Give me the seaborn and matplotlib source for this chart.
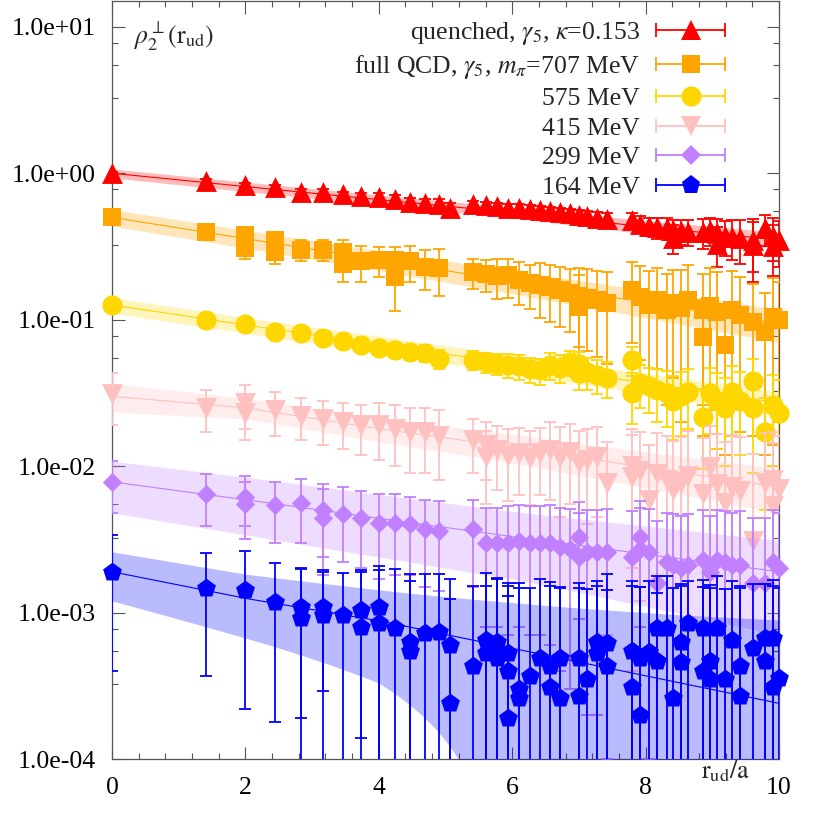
import numpy as np
import matplotlib
matplotlib.use("Agg")
import matplotlib.pyplot as plt
import seaborn as sns
from matplotlib.lines import Line2D
from matplotlib.legend_handler import HandlerLine2D, HandlerTuple
from matplotlib.ticker import FixedLocator, FuncFormatter, MultipleLocator, NullFormatter

# ---------------- data ----------------
red_x = [0, 1.41, 2.0, 2.45, 2.83, 3.16, 3.46, 3.74, 4.0, 4.24, 4.47, 4.69, 4.90, 5.07,
         5.41, 5.61, 5.77, 5.94, 6.10, 6.27, 6.42, 6.57, 6.72, 6.87, 7.00, 7.12, 7.27, 7.42,
         7.80, 7.92, 8.05, 8.17, 8.32, 8.41, 8.53, 8.64, 8.86, 8.97, 9.07, 9.19, 9.30, 9.42,
         9.61, 9.79, 9.91, 10.0,
         8.41, 9.07, 9.61, 9.91]
red_y = [1.0, 0.88, 0.83, 0.80, 0.75, 0.75, 0.72, 0.70, 0.69, 0.67, 0.64, 0.63, 0.62, 0.58,
         0.614, 0.605, 0.595, 0.577, 0.577, 0.568, 0.559, 0.550, 0.541, 0.533, 0.517, 0.509, 0.493, 0.485,
         0.477, 0.448, 0.434, 0.428, 0.421, 0.408, 0.402, 0.396, 0.396, 0.408, 0.389, 0.371, 0.366, 0.360,
         0.322, 0.420, 0.371, 0.349,
         0.36, 0.33, 0.35, 0.32]
red_e = [0.02, 0.03, 0.03, 0.03, 0.03, 0.03, 0.03, 0.03, 0.04, 0.04, 0.04, 0.04, 0.05, 0.05,
         0.03, 0.03, 0.03, 0.035, 0.035, 0.035, 0.04, 0.04, 0.04, 0.04, 0.045, 0.045, 0.05, 0.05,
         0.06, 0.06, 0.06, 0.07, 0.07, 0.07, 0.08, 0.08, 0.09, 0.09, 0.10, 0.10, 0.11, 0.12,
         0.14, 0.10, 0.12, 0.12,
         0.08, 0.10, 0.14, 0.12]

orange_x = [0, 1.41, 2.0, 2.0, 2.45, 2.45, 2.83, 3.16, 3.46, 3.46, 3.74, 4.0, 4.24, 4.24, 4.47, 4.69, 4.90,
            5.41, 5.61, 5.77, 5.94, 6.10, 6.27, 6.42, 6.57, 6.72, 6.87, 7.00, 7.12, 7.27, 7.42,
            7.80, 7.92, 8.05, 8.17, 8.32, 8.41, 8.53, 8.64, 8.86, 8.97, 9.07, 9.19, 9.30, 9.42,
            9.61, 9.79, 9.91, 10.0,
            7.00, 8.86]
orange_y = [0.50, 0.40, 0.38, 0.31, 0.35, 0.29, 0.30, 0.30, 0.29, 0.24, 0.25, 0.255, 0.255, 0.195, 0.25, 0.23, 0.225,
            0.211, 0.205, 0.198, 0.201, 0.186, 0.178, 0.172, 0.167, 0.159, 0.153, 0.145, 0.141, 0.136, 0.130,
            0.159, 0.143, 0.126, 0.136, 0.116, 0.130, 0.120, 0.136, 0.076, 0.124, 0.113, 0.067, 0.116, 0.107,
            0.096, 0.082, 0.104, 0.100,
            0.122, 0.116]
orange_e = [0.03, 0.04, 0.05, 0.05, 0.05, 0.05, 0.05, 0.05, 0.06, 0.06, 0.07, 0.06, 0.06, 0.08, 0.07, 0.07, 0.08,
            0.05, 0.05, 0.06, 0.06, 0.06, 0.06, 0.07, 0.07, 0.07, 0.07, 0.08, 0.08, 0.08, 0.08,
            0.09, 0.09, 0.09, 0.09, 0.09, 0.09, 0.10, 0.10, 0.06, 0.10, 0.10, 0.055, 0.10, 0.09,
            0.08, 0.07, 0.09, 0.08,
            0.08, 0.09]

yellow_x = [0, 1.41, 2.0, 2.45, 2.83, 3.16, 3.46, 3.74, 4.0, 4.24, 4.47, 4.69, 4.90,
            5.41, 5.61, 5.77, 5.94, 6.10, 6.27, 6.42, 6.57, 6.72, 6.87, 7.00, 7.12, 7.27, 7.42,
            7.80, 7.92, 8.05, 8.17, 8.32, 8.41, 8.53, 8.64, 8.86, 8.97, 9.07, 9.19, 9.30, 9.42,
            9.61, 9.79, 9.91, 10.0,
            7.00, 7.80, 9.61]
yellow_y = [0.126, 0.100, 0.093, 0.082, 0.081, 0.075, 0.072, 0.067, 0.064, 0.062, 0.060, 0.059, 0.054,
            0.053, 0.051, 0.050, 0.049, 0.048, 0.046, 0.045, 0.049, 0.047, 0.051, 0.043, 0.044, 0.042, 0.040,
            0.053, 0.037, 0.035, 0.033, 0.0315, 0.028, 0.030, 0.032, 0.0216, 0.0315, 0.028, 0.025, 0.032, 0.028,
            0.025, 0.017, 0.026, 0.023,
            0.050, 0.0315, 0.038]
yellow_e = [0.006, 0.007, 0.008, 0.007, 0.007, 0.007, 0.007, 0.007, 0.007, 0.007, 0.007, 0.008, 0.008,
            0.008, 0.008, 0.008, 0.009, 0.009, 0.009, 0.009, 0.010, 0.010, 0.010, 0.010, 0.011, 0.011, 0.011,
            0.012, 0.012, 0.012, 0.013, 0.013, 0.013, 0.014, 0.014, 0.012, 0.015, 0.015, 0.015, 0.016, 0.016,
            0.016, 0.012, 0.016, 0.016,
            0.010, 0.012, 0.016]

pink_x = [0, 1.41, 2.0, 2.0, 2.45, 2.83, 3.16, 3.46, 3.74, 4.0, 4.24, 4.47, 4.69, 4.90,
          5.41, 5.61, 5.77, 5.94, 6.10, 6.27, 6.42, 6.57, 6.72, 6.87, 7.00, 7.12, 7.27, 7.42,
          7.80, 7.92, 8.05, 8.17, 8.32, 8.41, 8.53, 8.64, 8.86, 8.97, 9.07, 9.19, 9.30, 9.42,
          9.61, 9.79, 9.91, 10.0,
          5.61, 7.80, 9.91]
pink_y = [0.031, 0.025, 0.027, 0.023, 0.024, 0.022, 0.021, 0.020, 0.019, 0.019, 0.018, 0.017, 0.017, 0.016,
          0.0150, 0.0115, 0.0129, 0.0118, 0.0123, 0.0114, 0.0123, 0.0129, 0.0115, 0.0125, 0.0105, 0.0110, 0.0115, 0.0077,
          0.0084, 0.0092, 0.0059, 0.0088, 0.0080, 0.0069, 0.0077, 0.0085, 0.0065, 0.0098, 0.0075, 0.0056, 0.0072, 0.0068,
          0.0031, 0.0077, 0.0053, 0.0070,
          0.0140, 0.0100, 0.0080]
pink_e = [0.012, 0.008, 0.009, 0.008, 0.008, 0.007, 0.007, 0.007, 0.007, 0.008, 0.008, 0.008, 0.008, 0.008,
          0.006, 0.006, 0.006, 0.006, 0.006, 0.006, 0.006, 0.007, 0.007, 0.007, 0.007, 0.007, 0.007, 0.007,
          0.008, 0.008, 0.008, 0.008, 0.008, 0.008, 0.008, 0.009, 0.009, 0.009, 0.009, 0.009, 0.009, 0.009,
          0.009, 0.009, 0.009, 0.009,
          0.006, 0.008, 0.009]

purple_x = [0, 1.41, 2.0, 2.0, 2.45, 2.83, 3.16, 3.16, 3.46, 3.74, 4.0, 4.24, 4.47, 4.69, 4.90,
            5.41, 5.61, 5.77, 5.94, 6.10, 6.27, 6.42, 6.57, 6.72, 6.87, 7.00, 7.12, 7.27, 7.42,
            7.80, 7.92, 8.05, 8.17, 8.32, 8.41, 8.53, 8.64, 8.86, 8.97, 9.07, 9.19, 9.30, 9.42,
            9.61, 9.79, 9.91, 10.0,
            7.00, 7.92]
purple_y = [0.0078, 0.0064, 0.0062, 0.0055, 0.0054, 0.0056, 0.0050, 0.0044, 0.0047, 0.0044, 0.0041, 0.0041, 0.0040, 0.0037, 0.0036,
            0.0037, 0.0030, 0.0030, 0.0030, 0.0031, 0.0030, 0.0030, 0.0030, 0.0028, 0.0027, 0.0033, 0.0026, 0.0026, 0.0026,
            0.0024, 0.0033, 0.0026, 0.0016, 0.0022, 0.0021, 0.0020, 0.0021, 0.0023, 0.0019, 0.0023, 0.0022, 0.0021, 0.0021,
            0.0016, 0.0016, 0.0022, 0.0020,
            0.0024, 0.0027]
purple_e = [0.0030, 0.0025, 0.0023, 0.0023, 0.0024, 0.0026, 0.0026, 0.0026, 0.0025, 0.0024, 0.0024, 0.0023, 0.0022, 0.0022, 0.0022,
            0.0022, 0.0022, 0.0022, 0.0023, 0.0023, 0.0023, 0.0023, 0.0024, 0.0024, 0.0024, 0.0024, 0.0024, 0.0024, 0.0025,
            0.0025, 0.0025, 0.0025, 0.0026, 0.0026, 0.0026, 0.0026, 0.0026, 0.0027, 0.0027, 0.0027, 0.0027, 0.0027, 0.0028,
            0.0028, 0.0028, 0.0028, 0.0028,
            0.0024, 0.0025]

blue_x = [0, 1.41, 2.0, 2.45, 2.83, 2.83, 3.16, 3.16, 3.46, 3.74, 3.74, 4.0, 4.0, 4.24, 4.47, 4.47, 4.69, 4.90, 5.07, 5.07,
          5.41, 5.61, 5.61, 5.77, 5.77, 5.94, 5.94, 5.94, 6.10, 6.10, 6.27, 6.42, 6.57, 6.57, 6.72, 6.72,
          7.00, 7.00, 7.12, 7.27, 7.27, 7.42, 7.42, 7.80, 7.80, 7.92, 7.92, 8.05, 8.17, 8.17, 8.32, 8.41,
          8.53, 8.53, 8.64, 8.86, 8.86, 8.97, 8.97, 9.07, 9.19, 9.30, 9.42, 9.42, 9.61, 9.79, 9.79, 9.91, 9.91, 10.0]
blue_y = [0.0019, 0.00147, 0.00142, 0.00118, 0.00109, 0.00092, 0.00109, 0.00096, 0.00096, 0.00104, 0.00080,
          0.00109, 0.00085, 0.00078, 0.00055, 0.00063, 0.00072, 0.00074, 0.00024, 0.00060,
          0.00043, 0.00065, 0.00053, 0.00063, 0.00049, 0.00053, 0.00040, 0.00019, 0.00030, 0.00026, 0.00037,
          0.00049, 0.00043, 0.00031, 0.00049, 0.00026, 0.00049, 0.00027, 0.00035, 0.00063, 0.00053, 0.00062,
          0.00043, 0.00055, 0.00031, 0.00049, 0.00020, 0.00054, 0.00047, 0.00078, 0.00078, 0.00026, 0.00063,
          0.00046, 0.00085, 0.00078, 0.00040, 0.00047, 0.00035, 0.00078, 0.00035, 0.00065, 0.00043, 0.00027,
          0.00057, 0.00067, 0.00047, 0.00031, 0.00067, 0.00036]
blue_e = [0.0015, 0.0011, 0.0012, 0.0010, 0.0009, 0.0011, 0.0008, 0.0010, 0.0009, 0.0009, 0.0011,
          0.0010, 0.0011, 0.0012, 0.0011, 0.0012, 0.0011, 0.0011, 0.0010, 0.0011,
          0.0011, 0.0012, 0.0010, 0.0011, 0.0012, 0.0010, 0.0012, 0.0011, 0.0013, 0.0012,
          0.0011, 0.0012, 0.0011, 0.0013, 0.0010, 0.0012, 0.0011, 0.0012, 0.0011, 0.0009,
          0.0011, 0.0012, 0.0010, 0.0011, 0.0012, 0.0010, 0.0013, 0.0011, 0.0009, 0.0010,
          0.0010, 0.0012, 0.0009, 0.0011, 0.0008, 0.0009, 0.0011, 0.0010, 0.0012, 0.0010,
          0.0011, 0.0010, 0.0011, 0.0012, 0.0010, 0.0009, 0.0011, 0.0012, 0.0010, 0.0011]

# fit bands: centre value and half-width at nodes
band_x = [0, 2, 4, 6, 8, 10]
red_fit = [1.0, 0.81, 0.66, 0.54, 0.43, 0.35]
red_sig = [0.07, 0.06, 0.05, 0.045, 0.045, 0.045]
orange_fit = [0.50, 0.358, 0.256, 0.183, 0.131, 0.094]
orange_sig = [0.065, 0.05, 0.04, 0.033, 0.028, 0.024]
yellow_fit = [0.126, 0.092, 0.068, 0.050, 0.037, 0.027]
yellow_sig = [0.015, 0.011, 0.009, 0.007, 0.006, 0.005]
pink_fit = [0.030, 0.025, 0.018, 0.0135, 0.0098, 0.0072]
pink_sig = [0.0065, 0.004, 0.0033, 0.003, 0.0027, 0.0024]
purple_fit = [0.0078, 0.0059, 0.0044, 0.0033, 0.0025, 0.0019]
purple_sig = [0.003, 0.0025, 0.002, 0.0016, 0.0014, 0.0012]
blue_fit = [0.0019, 0.00125, 0.00088, 0.00057, 0.00037, 0.00024]
blue_sig = [0.0007, 0.00058, 0.00055, 0.0006, 0.00063, 0.00065]

labels = [r'quenched, $\gamma_5$, $\kappa$=0.153',
          r'full QCD, $\gamma_5$, $m_\pi$=707 MeV',
          '575 MeV', '415 MeV', '299 MeV', '164 MeV']
xticks = [0, 2, 4, 6, 8, 10]
yticks = [1e-4, 1e-3, 1e-2, 1e-1, 1e0, 1e1]

# ---------------- style ----------------
sns.set_theme(style="ticks")
plt.rcParams["font.family"] = ["Liberation Serif", "DejaVu Serif"]
plt.rcParams["mathtext.fontset"] = "stix"
FS = 18.5

series = [
    dict(x=red_x, y=red_y, e=red_e, fit=red_fit, sig=red_sig, color="#ff0000", marker="^", ms=15),
    dict(x=orange_x, y=orange_y, e=orange_e, fit=orange_fit, sig=orange_sig, color="#ffa500", marker="s", ms=13.5),
    dict(x=yellow_x, y=yellow_y, e=yellow_e, fit=yellow_fit, sig=yellow_sig, color="#ffd700", marker="o", ms=14.5),
    dict(x=pink_x, y=pink_y, e=pink_e, fit=pink_fit, sig=pink_sig, color="#ffc0c0", marker="v", ms=15),
    dict(x=purple_x, y=purple_y, e=purple_e, fit=purple_fit, sig=purple_sig, color="#c080ff", marker="D", ms=9.8),
    dict(x=blue_x, y=blue_y, e=blue_e, fit=blue_fit, sig=blue_sig, color="#0000ff", marker="p", ms=14.2),
]

fig = plt.figure(figsize=(8.22, 8.22), dpi=100)
ax = fig.add_axes([112 / 822, 63 / 822, 667 / 822, 758 / 822])
ax.set_yscale("log")
ax.set_xlim(0, 10)
ax.set_ylim(1e-4, 15)

xx = np.linspace(0, 10, 401)
for i, s in enumerate(series):
    z = 2 + 4 * i
    c = 10 ** np.interp(xx, band_x, np.log10(s["fit"]))
    sg = np.interp(xx, band_x, s["sig"])
    ax.fill_between(xx, np.clip(c - sg, 1e-7, None), c + sg, color=s["color"],
                    alpha=0.27, lw=0, zorder=z)
    sns.lineplot(x=xx, y=c, color=s["color"], lw=0.8, ax=ax, zorder=z + 0.5)
    ax.errorbar(s["x"], s["y"], yerr=s["e"], fmt="none", ecolor=s["color"],
                elinewidth=1.3, capsize=4.5, capthick=1.3, zorder=z + 1)
    sns.scatterplot(x=s["x"], y=s["y"], marker=s["marker"], s=s["ms"] ** 2,
                    color=s["color"], linewidth=0, ax=ax, zorder=z + 2,
                    clip_on=False, legend=False)

# axes styling
for sp in ax.spines.values():
    sp.set_color("#555555")
    sp.set_linewidth(0.9)
ax.xaxis.set_major_locator(FixedLocator(xticks))
ax.xaxis.set_minor_locator(MultipleLocator(0.4))
ax.yaxis.set_major_locator(FixedLocator(yticks))
minor_y = [m * 10.0 ** k for k in range(-4, 2) for m in (3.25, 5.5, 7.75)]
ax.yaxis.set_minor_locator(FixedLocator(minor_y))
ax.yaxis.set_minor_formatter(NullFormatter())
ax.yaxis.set_major_formatter(FuncFormatter(lambda v, p: f"{v:.1e}"))
ax.xaxis.set_major_formatter(FuncFormatter(lambda v, p: f"{v:g}"))
ax.tick_params(which="both", direction="in", top=True, right=True,
               colors="#555555", labelcolor="black", labelsize=FS)
ax.tick_params(which="major", length=9, width=0.8)
ax.tick_params(which="minor", length=4.5, width=0.8)
ax.tick_params(axis="y", pad=12)
ax.tick_params(axis="x", pad=13)
ax.set_xlabel("")
ax.set_ylabel("")

ax.text(0.031, 0.953, r'$\rho_2^{\perp}(\mathrm{r}_{\mathrm{ud}})$', transform=ax.transAxes,
        fontsize=FS, va="center", ha="left")
ax.text(0.919, -0.016, r'$\mathrm{r}_{\mathrm{ud}}/\mathrm{a}$', transform=ax.transAxes,
        fontsize=FS, va="center", ha="center")

# legend: label on left, error-bar sample with marker in its middle on right
handles = []
hmap = {}
for s in series:
    cap = Line2D([], [], color=s["color"], lw=1.3, marker="|", markersize=9.5,
                 markeredgewidth=1.3)
    mk = Line2D([], [], color=s["color"], ls="none", marker=s["marker"],
                markersize=s["ms"], markeredgewidth=0)
    hmap[cap] = HandlerLine2D(numpoints=2, marker_pad=0)
    hmap[mk] = HandlerLine2D(numpoints=1)
    handles.append((cap, mk))
hmap[tuple] = HandlerTuple(ndivide=1, pad=0)
leg = ax.legend(handles, labels, handler_map=hmap, loc="upper right",
                markerfirst=False, frameon=False, fontsize=FS,
                handlelength=2.7, handletextpad=0.62, labelspacing=0.25,
                borderaxespad=0.0, bbox_to_anchor=(0.935, 0.989))
leg.set_zorder(50)

fig.savefig("out.png", dpi=100)
